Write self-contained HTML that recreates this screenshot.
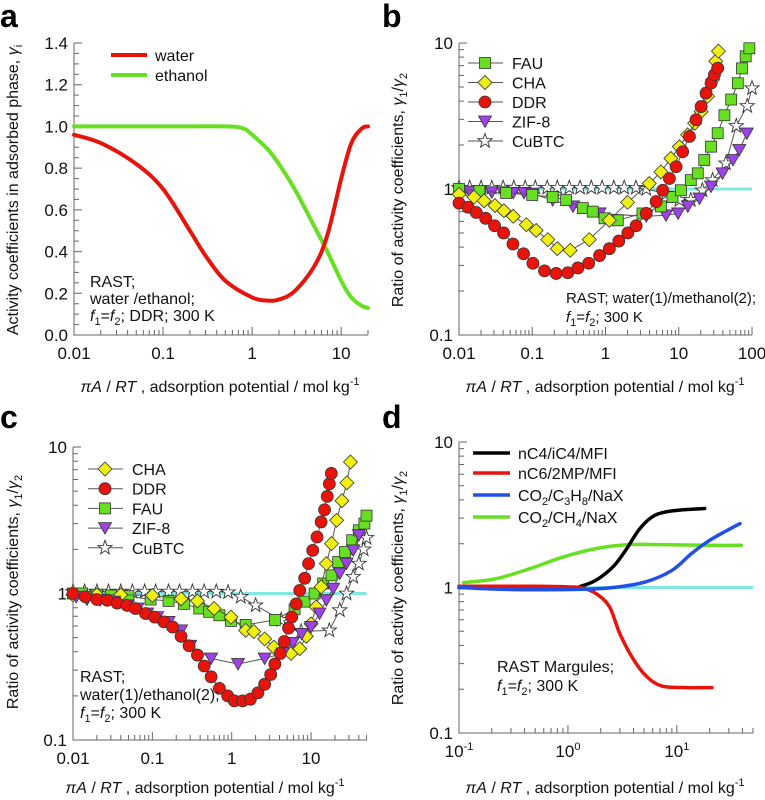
<!DOCTYPE html>
<html><head><meta charset="utf-8">
<style>
body{margin:0;background:#fff;}
svg{display:block;font-family:"Liberation Sans",Arial,sans-serif;}
</style></head>
<body>
<svg id="fig" width="765" height="800" viewBox="0 0 765 800" xmlns="http://www.w3.org/2000/svg"></svg>
<script>
// ---------- Panel a data ----------
const aWaterX=[0.01,0.02,0.05,0.1,0.2,0.3,0.5,1,1.5,2,3,5,7,10,13,17,20];
const aWaterY=[0.96,0.92,0.82,0.70,0.50,0.38,0.26,0.18,0.165,0.17,0.21,0.33,0.48,0.75,0.92,0.99,1.0];
const aEthX=[0.01,0.1,0.5,0.8,1,1.5,2,3,5,7,10,13,17,20];
const aEthY=[1,1,1,0.99,0.96,0.89,0.82,0.70,0.52,0.40,0.26,0.18,0.14,0.13];
const aYTicks=[0,0.2,0.4,0.6,0.8,1.0,1.2,1.4];
const aYLabels=["0.0","0.2","0.4","0.6","0.8","1.0","1.2","1.4"];
const aXTicks=[0.01,0.1,1,10];
const aXLabels=["0.01","0.1","1","10"];
// ---------- Panel b data ----------
const bDDRX=[0.01,0.0133,0.0172,0.0231,0.0306,0.0406,0.0545,0.076,0.102,0.147,0.212,0.306,0.42,0.59,0.83,1.13,1.52,2.02,2.62,3.59,4.91,6.05,7.46,9.2,11.3,14.0,17.2,20.2,23.6,27.6,30.7,34.0];
const bDDRY=[0.80,0.75,0.69,0.63,0.56,0.50,0.42,0.36,0.31,0.275,0.264,0.267,0.288,0.31,0.35,0.39,0.44,0.50,0.56,0.68,0.82,0.98,1.18,1.42,1.80,2.29,2.98,3.67,4.54,5.31,6.06,6.73];
const bCHAX=[0.01,0.016,0.022,0.031,0.041,0.055,0.083,0.113,0.163,0.22,0.33,0.60,1.13,2.0,3.96,5.7,7.8,10.2,13.2,16.5,20.2,24.8,29,32,34.8];
const bCHAY=[0.92,0.88,0.83,0.77,0.71,0.65,0.57,0.52,0.45,0.39,0.38,0.45,0.61,0.81,1.09,1.31,1.62,1.95,2.35,2.82,3.39,4.31,5.6,7.5,8.8];
const bFAUX=[0.01,0.019,0.044,0.10,0.19,0.29,0.49,0.67,0.97,1.47,3.2,5.7,8.2,10.7,14.6,18.2,22.3,27.6,34,42,52,64,73,82,92];
const bFAUY=[1.0,0.97,0.94,0.91,0.88,0.84,0.74,0.70,0.63,0.61,0.68,0.76,0.88,0.98,1.15,1.28,1.58,1.95,2.41,3.2,4.1,5.3,6.7,8.1,9.2];
const bZIFX=[0.01,0.014,0.02,0.028,0.04,0.055,0.077,0.1,0.19,0.36,0.83,3.6,6.7,9.8,13.3,19.2,27.6,39.6,55,67,85];
const bZIFY=[0.96,0.96,0.95,0.95,0.95,0.94,0.94,0.93,0.84,0.76,0.68,0.65,0.66,0.68,0.76,0.86,1.04,1.28,1.58,1.85,2.4];
const bCuX=[0.01,0.014,0.02,0.028,0.04,0.056,0.08,0.11,0.16,0.22,0.32,0.45,0.64,0.9,1.3,1.8,2.6,3.6,6.7,10.2,14.6,21,29,44,61,86,100];
const bCuY=[1.02,1.02,1.02,1.02,1.02,1.02,1.02,1.02,1.02,1.02,1.02,1.02,1.02,1.02,1.02,1.02,1.02,1.0,0.93,0.84,0.84,0.98,1.15,1.5,2.7,3.7,4.9];
const logYTicks=[0.1,1,10];
const logYLabels=["0.1","1","10"];
const bXTicks=[0.01,0.1,1,10,100];
const bXLabels=["0.01","0.1","1","10","100"];
// ---------- Panel c data ----------
const cDDRX=[0.01,0.0143,0.020,0.027,0.036,0.048,0.061,0.082,0.107,0.14,0.18,0.23,0.29,0.37,0.45,0.55,0.70,0.89,1.08,1.37,1.72,2.14,2.6,3.1,3.5,4.1,4.6,5.2,5.7,6.5,7.2,8.3,9.3,10.5,11.9,13.4,14.8,16.0,17.0,18.0];
const cDDRY=[1.0,0.95,0.91,0.90,0.86,0.83,0.79,0.73,0.69,0.64,0.59,0.51,0.44,0.38,0.32,0.27,0.225,0.20,0.185,0.185,0.19,0.21,0.24,0.28,0.33,0.39,0.47,0.58,0.69,0.85,1.05,1.27,1.60,1.97,2.43,3.08,3.73,4.6,5.6,6.6];
const cCHAX=[0.01,0.02,0.04,0.1,0.23,0.37,0.60,0.98,1.5,1.9,2.6,3.4,4.4,5.6,7.2,8.7,10,11.6,13.4,15.6,18.1,21,24.5,28.3,31.4];
const cCHAY=[0.98,0.98,0.98,0.97,0.92,0.89,0.79,0.69,0.56,0.55,0.49,0.43,0.41,0.39,0.42,0.51,0.62,0.81,1.11,1.60,2.19,3.16,4.3,5.7,7.9];
const cFAUX=[0.01,0.013,0.02,0.03,0.05,0.095,0.16,0.25,0.39,0.52,0.70,0.98,1.5,3.5,6.2,8.3,11.1,14.2,18.1,22,26.8,33,40,47,50];
const cFAUY=[1.0,1.0,0.98,0.97,0.96,0.91,0.89,0.85,0.79,0.75,0.71,0.65,0.61,0.66,0.78,0.88,1.0,1.17,1.33,1.64,1.92,2.31,2.70,3.0,3.4];
const cZIFX=[0.011,0.015,0.022,0.033,0.048,0.065,0.086,0.115,0.16,0.23,0.30,0.55,1.2,2.6,4.4,5.9,7.6,10,12.8,15.6,19,23,28,34,40];
const cZIFY=[0.95,0.91,0.90,0.88,0.83,0.79,0.73,0.69,0.64,0.56,0.44,0.36,0.33,0.36,0.39,0.46,0.53,0.59,0.73,0.90,1.08,1.37,1.60,1.97,2.5];
const cCuX=[0.01,0.014,0.02,0.028,0.04,0.056,0.08,0.11,0.16,0.22,0.32,0.45,0.64,0.9,1.3,2.0,4.2,7.5,17,23,28,34,40,46,50];
const cCuY=[1.03,1.03,1.03,1.03,1.03,1.03,1.03,1.03,1.03,1.03,1.03,1.03,1.03,1.02,0.95,0.83,0.66,0.55,0.56,0.77,1.0,1.3,1.6,2.0,2.4];
const cXTicks=[0.01,0.1,1,10];
const cXLabels=["0.01","0.1","1","10"];
// ---------- Panel d data ----------
const dC4X=[0.1,0.5,1.2,1.27,1.8,2.6,3.4,4.5,5.9,7.8,11.9,18];
const dC4Y=[1.0,1.0,1.0,1.01,1.12,1.39,1.81,2.5,3.05,3.3,3.43,3.49];
const dC6X=[0.1,0.5,1.0,1.37,1.8,2.4,3.0,4.0,5.3,7.3,12,21];
const dC6Y=[1.02,1.02,1.01,0.99,0.91,0.74,0.48,0.32,0.244,0.21,0.205,0.205];
const dC3X=[0.1,0.27,1.27,2.6,5.1,9,13.6,20,29,38];
const dC3Y=[1.0,0.97,0.97,1.0,1.09,1.31,1.71,2.11,2.47,2.75];
const dCH4X=[0.11,0.22,0.45,0.9,1.8,3.6,7.2,20,39];
const dCH4Y=[1.08,1.15,1.35,1.62,1.85,1.97,1.97,1.95,1.95];
const dXTicks=[0.1,1,10];
const dXBase=["10","10","10"];
const dXExp=["-1","0","1"];

const NS="http://www.w3.org/2000/svg";
const fig=document.getElementById('fig');
function mk(tag,attrs,parent){const e=document.createElementNS(NS,tag);for(const k in attrs)e.setAttribute(k,attrs[k]);(parent||fig).appendChild(e);return e;}
function lg(v){return Math.log10(v);}

function makeAxes(p){
  p.sx=v=>p.x0+(lg(v)-lg(p.xmin))/(lg(p.xmax)-lg(p.xmin))*(p.x1-p.x0);
  p.sy=p.ylog?(v=>p.y0-(lg(v)-lg(p.ymin))/(lg(p.ymax)-lg(p.ymin))*(p.y0-p.y1))
             :(v=>p.y0-(v-p.ymin)/(p.ymax-p.ymin)*(p.y0-p.y1));
  return p;
}
function drawAxisLines(p,g){
  const ax=mk('path',{d:`M${p.x0},${p.y1}V${p.y0}H${p.x1}`,fill:'none',stroke:'#666','stroke-width':1},g);
  
  
  const d0=Math.floor(lg(p.xmin)),d1=Math.ceil(lg(p.xmax));
  let dd='';
  for(let d=d0;d<=d1;d++)for(let m=1;m<10;m++){const v=m*Math.pow(10,d);if(v<p.xmin-1e-12||v>p.xmax*1.0001)continue;const x=p.sx(v);dd+=`M${x},${p.y0}v${m==1?-8:-5}`;}
  if(p.ylog){for(let d=Math.floor(lg(p.ymin));d<=Math.ceil(lg(p.ymax));d++)for(let m=1;m<10;m++){const v=m*Math.pow(10,d);if(v<p.ymin*0.999||v>p.ymax*1.001)continue;const y=p.sy(v);dd+=`M${p.x0},${y}h${m==1?8:5}`;}}
  else{for(let v=p.ymin;v<=p.ymax+1e-9;v+=0.05){const y=p.sy(v);const maj=Math.abs(v/0.2-Math.round(v/0.2))<1e-6;dd+=`M${p.x0},${y}h${maj?8:5}`;}}
  const t=mk('path',{d:dd,fill:'none',stroke:'#666','stroke-width':1},g);
  
  
}
function tickLabelsY(p,g,vals,labels){
  vals.forEach((v,i)=>{const t=mk('text',{x:p.x0-6,y:p.sy(v)+6,'text-anchor':'end','font-size':17,fill:'#111'},g);t.textContent=labels[i];
    
    });
}
function tickLabelsX(p,g,vals,labels){
  vals.forEach((v,i)=>{const t=mk('text',{x:p.sx(v),y:p.y0+24,'text-anchor':'middle','font-size':17,fill:'#111'},g);t.textContent=labels[i];
    
    });
}
function xTitle(g,cx,y){
  const t=mk('text',{x:cx,y:y,'text-anchor':'middle','font-size':16,fill:'#111'},g);
  t.innerHTML='<tspan font-style="italic">πA</tspan> / <tspan font-style="italic">RT</tspan> , adsorption potential / mol kg<tspan font-size="11" dy="-7">-1</tspan>';
  
  
}
function yTitle(g,x,cy,html){
  const t=mk('text',{x:0,y:0,'text-anchor':'middle','font-size':16,fill:'#111',transform:`translate(${x},${cy}) rotate(-90)`},g);
  t.innerHTML=html;
  
  
}
function panelLetter(ch,x,y){
  const t=mk('text',{x:x,y:y,'font-size':32,'font-weight':'bold',fill:'#000'});
  t.textContent=ch;
  
  
}
function curve(p,g,xs,ys,color,w,name){
  let d='';xs.forEach((x,i)=>{d+=(i?'L':'M')+p.sx(x).toFixed(1)+','+p.sy(ys[i]).toFixed(1);});
  const pts=xs.map((x,i)=>[p.sx(x),p.sy(ys[i])]);
  let s=`M${pts[0][0]},${pts[0][1]}`;
  for(let i=0;i<pts.length-1;i++){const p0=pts[Math.max(0,i-1)],p1=pts[i],p2=pts[i+1],p3=pts[Math.min(pts.length-1,i+2)];
    s+=`C${p1[0]+(p2[0]-p0[0])/6},${p1[1]+(p2[1]-p0[1])/6} ${p2[0]-(p3[0]-p1[0])/6},${p2[1]-(p3[1]-p1[1])/6} ${p2[0]},${p2[1]}`;}
  const e=mk('path',{d:w<2?d:s,fill:'none',stroke:color,'stroke-width':w,'stroke-linecap':'round'},g);
  
  
  return e;
}
function marker(g,type,x,y,fill,name){
  let e;const st={fill:fill,stroke:'#333','stroke-width':0.8};
  if(type=='sq')e=mk('rect',Object.assign({x:x-5.5,y:y-5.5,width:11,height:11},st),g);
  else if(type=='di')e=mk('polygon',Object.assign({points:`${x},${y-7} ${x+7},${y} ${x},${y+7} ${x-7},${y}`},st),g);
  else if(type=='ci')e=mk('circle',Object.assign({cx:x,cy:y,r:6},st),g);
  else if(type=='tr')e=mk('polygon',Object.assign({points:`${x-6.5},${y-5.5} ${x+6.5},${y-5.5} ${x},${y+6}`},st),g);
  else{let pts='';for(let k=0;k<10;k++){const r=k%2?3:7.5,a=-Math.PI/2+k*Math.PI/5;pts+=(x+r*Math.cos(a)).toFixed(1)+','+(y+r*Math.sin(a)).toFixed(1)+' ';}
    e=mk('polygon',Object.assign({points:pts},st,{fill:'#fff','stroke-width':0.9}),g);}
  
  
}
function markerSeries(p,g,xs,ys,type,fill,name){
  curve(p,g,xs,ys,'#555',1,name+'-line');
  xs.forEach((x,i)=>marker(g,type,p.sx(x),p.sy(ys[i]),fill,name+'-point'));
}
function label(g,x,y,html,name,size){
  const t=mk('text',{x:x,y:y,'font-size':size||16,fill:'#111'},g);t.innerHTML=html;
  
  
}
function cyanLine(p,g,xa,xb){
  const e=mk('line',{x1:p.sx(xa),x2:p.sx(xb),y1:p.sy(1),y2:p.sy(1),stroke:'#7fe8e0','stroke-width':3},g);
  
  
}
const F12='<tspan font-style="italic">f</tspan><tspan font-size="11" dy="4">1</tspan><tspan dy="-4">=</tspan><tspan font-style="italic">f</tspan><tspan font-size="11" dy="4">2</tspan><tspan dy="-4">;</tspan>';
const YRATIO='Ratio of activity coefficients, <tspan font-style="italic">γ</tspan><tspan font-size="11" dy="4">1</tspan><tspan dy="-4">/</tspan><tspan font-style="italic">γ</tspan><tspan font-size="11" dy="4">2</tspan>';

// ===== Panel a =====
(function(){
  const g=mk('g',{});
  const p=makeAxes({x0:74,x1:368,xmin:0.01,xmax:20,y0:335,y1:43,ymin:0,ymax:1.4,ylog:false});
  drawAxisLines(p,g);tickLabelsY(p,g,aYTicks,aYLabels);tickLabelsX(p,g,aXTicks,aXLabels);
  curve(p,g,aEthX,aEthY,'#66e020',4,'ethanol-curve');
  curve(p,g,aWaterX,aWaterY,'#e8140c',4,'water-curve');
  mk('line',{x1:111,x2:147,y1:55,y2:55,stroke:'#e8140c','stroke-width':4},g);
  label(g,155,61,'water','legend-water');
  mk('line',{x1:111,x2:147,y1:75,y2:75,stroke:'#66e020','stroke-width':4},g);
  label(g,155,81,'ethanol','legend-ethanol');
  label(g,90,287,'RAST;','annotation-line1');
  label(g,90,304,'water /ethanol;','annotation-line2');
  label(g,90,321,F12+' DDR; 300 K','annotation-line3');
  yTitle(g,18,190,'Activity coefficients in adsorbed phase, <tspan font-style="italic">γ</tspan><tspan font-size="11" dy="4">i</tspan>');
  xTitle(g,220,392);
  panelLetter('a',0,27);
})();
// ===== Panel b =====
(function(){
  const g=mk('g',{});
  const p=makeAxes({x0:459,x1:752,xmin:0.01,xmax:100,y0:335,y1:43,ymin:0.1,ymax:10,ylog:true});
  cyanLine(p,g,0.01,100);
  drawAxisLines(p,g);tickLabelsY(p,g,logYTicks,logYLabels);tickLabelsX(p,g,bXTicks,bXLabels);
  markerSeries(p,g,bCuX,bCuY,'st','#fff','cubtc-series');
  markerSeries(p,g,bZIFX,bZIFY,'tr','#a040e8','zif8-series');
  markerSeries(p,g,bFAUX,bFAUY,'sq','#66e020','fau-series');
  markerSeries(p,g,bCHAX,bCHAY,'di','#f0f010','cha-series');
  markerSeries(p,g,bDDRX,bDDRY,'ci','#e8140c','ddr-series');
  const L=[['FAU','sq','#66e020'],['CHA','di','#f0f010'],['DDR','ci','#e8140c'],['ZIF-8','tr','#a040e8'],['CuBTC','st','#fff']];
  L.forEach((l,i)=>{const y=63+i*19.5;mk('line',{x1:468,x2:503,y1:y,y2:y,stroke:'#555'},g);marker(g,l[1],485,y,l[2],'legend-marker');label(g,512,y+6,l[0],'legend-'+l[0].toLowerCase());});
  label(g,566,303,'RAST; water(1)/methanol(2);','annotation-line1',15);
  label(g,566,322,F12+' 300 K','annotation-line2',15);
  yTitle(g,403,190,YRATIO);
  xTitle(g,605,392);
  panelLetter('b',382,27);
})();
// ===== Panel c =====
(function(){
  const g=mk('g',{});
  const p=makeAxes({x0:73,x1:367,xmin:0.01,xmax:50.7,y0:740,y1:447,ymin:0.1,ymax:10,ylog:true});
  cyanLine(p,g,0.01,50);
  drawAxisLines(p,g);tickLabelsY(p,g,logYTicks,logYLabels);tickLabelsX(p,g,cXTicks,cXLabels);
  markerSeries(p,g,cCuX,cCuY,'st','#fff','cubtc-series');
  markerSeries(p,g,cFAUX,cFAUY,'sq','#66e020','fau-series');
  markerSeries(p,g,cCHAX,cCHAY,'di','#f0f010','cha-series');
  markerSeries(p,g,cZIFX,cZIFY,'tr','#a040e8','zif8-series');
  markerSeries(p,g,cDDRX,cDDRY,'ci','#e8140c','ddr-series');
  const L=[['CHA','di','#f0f010'],['DDR','ci','#e8140c'],['FAU','sq','#66e020'],['ZIF-8','tr','#a040e8'],['CuBTC','st','#fff']];
  L.forEach((l,i)=>{const y=469+i*19.7;mk('line',{x1:88,x2:123,y1:y,y2:y,stroke:'#555'},g);marker(g,l[1],105,y,l[2],'legend-marker');label(g,132,y+6,l[0],'legend-'+l[0].toLowerCase());});
  label(g,80,682,'RAST;','annotation-line1');
  label(g,80,700,'water(1)/ethanol(2);','annotation-line2');
  label(g,80,718,F12+' 300 K','annotation-line3');
  yTitle(g,18,592,YRATIO);
  xTitle(g,205,793);
  panelLetter('c',0,428);
})();
// ===== Panel d =====
(function(){
  const g=mk('g',{});
  const p=makeAxes({x0:459,x1:753,xmin:0.1,xmax:50,y0:733,y1:442,ymin:0.1,ymax:10,ylog:true});
  cyanLine(p,g,0.1,50);
  drawAxisLines(p,g);tickLabelsY(p,g,logYTicks,logYLabels);
  dXTicks.forEach((v,i)=>{const t=mk('text',{x:p.sx(v),y:p.y0+24,'text-anchor':'middle','font-size':17,fill:'#111'},g);
    t.innerHTML=dXBase[i]+'<tspan font-size="11" dy="-7">'+dXExp[i]+'</tspan>';
    
    });
  curve(p,g,dCH4X,dCH4Y,'#66e020',3.5,'co2-ch4-nax-curve');
  curve(p,g,dC4X,dC4Y,'#000',3.5,'nc4-ic4-mfi-curve');
  curve(p,g,dC6X,dC6Y,'#e8140c',3.5,'nc6-2mp-mfi-curve');
  curve(p,g,dC3X,dC3Y,'#2050e8',3.5,'co2-c3h8-nax-curve');
  const L=[['nC4/iC4/MFI','#000'],['nC6/2MP/MFI','#e8140c'],['CO<tspan font-size="11" dy="4">2</tspan><tspan dy="-4">/C</tspan><tspan font-size="11" dy="4">3</tspan><tspan dy="-4">H</tspan><tspan font-size="11" dy="4">8</tspan><tspan dy="-4">/NaX</tspan>','#2050e8'],['CO<tspan font-size="11" dy="4">2</tspan><tspan dy="-4">/CH</tspan><tspan font-size="11" dy="4">4</tspan><tspan dy="-4">/NaX</tspan>','#66e020']];
  const ys=[453,473,495,517];
  L.forEach((l,i)=>{mk('line',{x1:473,x2:510,y1:ys[i],y2:ys[i],stroke:l[1],'stroke-width':3.5},g);label(g,518,ys[i]+6,l[0],'legend-entry');});
  label(g,497,672,'RAST Margules;','annotation-line1');
  label(g,497,691,F12+' 300 K','annotation-line2');
  yTitle(g,403,588,YRATIO);
  xTitle(g,605,793);
  panelLetter('d',382,428);
})();
</script>
</body></html>
